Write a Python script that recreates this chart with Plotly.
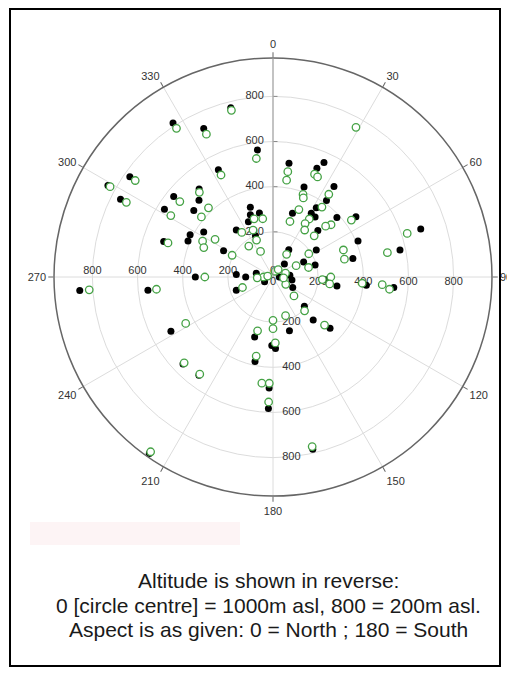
import plotly.graph_objects as go

# Black (filled) series: r = distance from centre (reverse altitude), theta = aspect (deg)
black_r = [813, 726, 773, 567, 533, 774, 836, 758, 566, 509, 472, 567, 458, 325, 293, 290,
           268, 264, 199, 412, 409, 366, 509, 248, 509, 519, 555, 422, 483, 413, 362, 295,
           329, 325, 387, 454, 286, 409, 575, 688, 363, 226, 140, 151, 194, 77, 537, 519,
           415, 286, 233, 190, 261, 340, 249, 304, 317, 492, 583, 783, 278, 383, 512, 554,
           545, 955, 858, 557, 344, 163, 121, 76, 43, 173, 28, 75, 85, 99]
black_theta = [327, 335, 346, 353, 333, 305, 299, 297, 309, 320, 316, 302, 310, 342, 340, 348,
               336, 322, 337, 297, 293, 303, 288, 298, 8, 22, 24, 19, 34, 35, 32, 17,
               31, 35, 47, 54, 44, 67, 78, 72, 77, 58, 30, 64, 74, 41, 95, 96,
               95, 98, 93, 133, 137, 132, 163, 181, 178, 182, 182, 167, 197, 192, 242, 226,
               217, 215, 266, 264, 270, 274, 270, 283, 240, 250, 90, 84, 99, 118]

# Green (open) series
green_r = [785, 698, 761, 530, 507, 745, 825, 729, 531, 497, 419, 528, 414, 271, 262, 241,
           226, 179, 174, 126, 350, 333, 306, 489, 205, 471, 433, 491, 485, 442, 389, 375,
           378, 320, 257, 303, 346, 324, 429, 276, 251, 258, 518, 625, 334, 326, 189, 117,
           114, 163, 758, 485, 519, 396, 219, 256, 253, 205, 312, 180, 192, 229, 292, 473,
           471, 554, 771, 248, 358, 438, 547, 539, 945, 816, 519, 302, 42, 143, 65, 125,
           24, 27, 40, 58, 47, 70]
green_theta = [327, 335, 346, 352, 333, 305, 299, 297, 309, 319, 317, 301, 310, 342, 350, 325,
               337, 336, 322, 334, 297, 293, 303, 288, 298, 8, 8, 22, 24, 34, 20, 21,
               35, 21, 17, 32, 48, 46, 54, 31, 34, 45, 78, 72, 69, 76, 57, 31,
               64, 75, 29, 94, 96, 94, 93, 90, 97, 137, 133, 162, 180, 180, 178, 186,
               182, 182, 167, 196, 192, 242, 226, 217, 215, 266, 264, 270, 270, 251, 120, 132,
               280, 20, 35, 73, 95, 267]

angle_ticks = [0, 30, 60, 90, 120, 150, 180, 210, 240, 270, 300, 330]
radial_ticks = [200, 400, 600, 800]
radial_ticks0 = [0, 200, 400, 600, 800]

caption_lines = ["Altitude is shown in reverse:",
                 "0 [circle centre] = 1000m asl, 800 = 200m asl.",
                 "Aspect is as given: 0 = North ; 180 = South"]

fig = go.Figure()

lab_font = dict(family="Liberation Sans, Arial, sans-serif", size=11, color="#333")
# radial tick labels along the four main directions
fig.add_trace(go.Scatterpolar(r=radial_ticks, theta=[0] * 4, mode="text",
                              text=[f"{v}   " for v in radial_ticks], textposition="middle left",
                              textfont=lab_font, hoverinfo="skip", showlegend=False))
fig.add_trace(go.Scatterpolar(r=radial_ticks0, theta=[270] * 5, mode="text",
                              text=[str(v) for v in radial_ticks0], textposition="top center",
                              textfont=lab_font, hoverinfo="skip", showlegend=False))
fig.add_trace(go.Scatterpolar(r=radial_ticks0, theta=[90] * 5, mode="text",
                              text=[str(v) for v in radial_ticks0], textposition="bottom center",
                              textfont=lab_font, hoverinfo="skip", showlegend=False))
fig.add_trace(go.Scatterpolar(r=radial_ticks, theta=[180] * 4, mode="text",
                              text=[f"   {v}" for v in radial_ticks], textposition="middle right",
                              textfont=lab_font, hoverinfo="skip", showlegend=False))

fig.add_trace(go.Scatterpolar(r=black_r, theta=black_theta, mode="markers",
                              marker=dict(symbol="circle", size=7, color="#000000"),
                              showlegend=False))
fig.add_trace(go.Scatterpolar(r=green_r, theta=green_theta, mode="markers",
                              marker=dict(symbol="circle", size=7.5, color="white",
                                          line=dict(color="#45a245", width=1.3)),
                              showlegend=False))

W, H = 507, 677
cx, cy, R = 273, 277, 219
fig.update_layout(
    width=W, height=H,
    margin=dict(l=0, r=0, t=0, b=0),
    paper_bgcolor="white",
    showlegend=False,
    polar=dict(
        domain=dict(x=[(cx - R) / W, (cx + R) / W], y=[(H - cy - R) / H, (H - cy + R) / H]),
        bgcolor="white",
        angularaxis=dict(rotation=90, direction="clockwise", tickmode="array",
                         tickvals=angle_ticks, ticktext=[str(a) for a in angle_ticks],
                         ticks="outside", ticklen=5, tickcolor="#666",
                         showline=True, linecolor="#666", linewidth=1.5,
                         showgrid=True, gridcolor="#dcdcdc", gridwidth=1,
                         tickfont=lab_font),
        radialaxis=dict(range=[0, 970], tickmode="array", tickvals=radial_ticks,
                        showticklabels=False, ticks="outside", ticklen=4, tickcolor="#888",
                        angle=90, showline=True, linecolor="#999", linewidth=1,
                        showgrid=True, gridcolor="#dcdcdc", gridwidth=1),
    ),
    shapes=[
        dict(type="rect", xref="paper", yref="paper", x0=10 / W, x1=500 / W,
             y0=(H - 666) / H, y1=(H - 9) / H, line=dict(color="black", width=2)),
        dict(type="rect", xref="paper", yref="paper", x0=30 / W, x1=240 / W,
             y0=(H - 545) / H, y1=(H - 522) / H, line=dict(width=0),
             fillcolor="#fdf4f5", layer="below"),
    ],
)

cap_y = [580, 605, 629]
for line, yy in zip(caption_lines, cap_y):
    fig.add_annotation(text=line, xref="paper", yref="paper", x=268 / W, y=(H - yy) / H,
                       xanchor="center", yanchor="middle", showarrow=False,
                       font=dict(family="Liberation Sans, Arial, sans-serif", size=21, color="#1a1a1a"))

fig.write_html("out.html", config={"displayModeBar": False},
               post_script="document.body.style.margin='0';document.body.style.overflow='hidden';")
